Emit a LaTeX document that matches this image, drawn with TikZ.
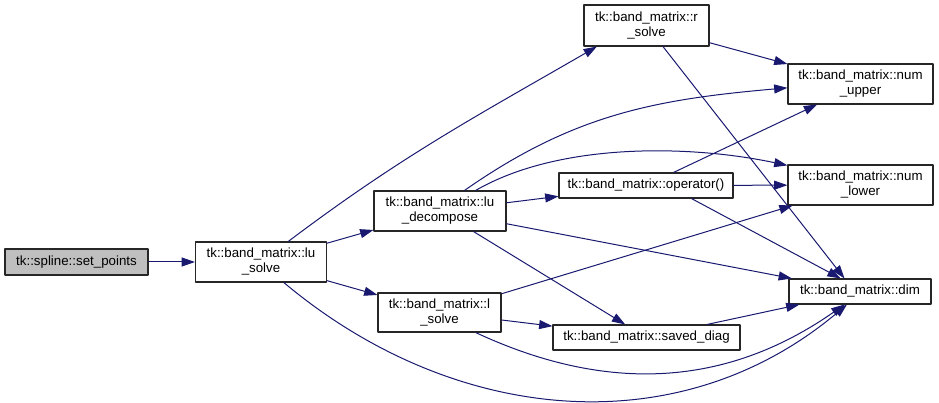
\documentclass[tikz,border=0pt]{standalone}
\usepackage{fontspec}
\setmainfont{Liberation Sans}
\usetikzlibrary{arrows.meta}
\definecolor{edgeblue}{HTML}{191970}
\definecolor{rootgray}{HTML}{BFBFBF}

\begin{document}
\begin{tikzpicture}[x=1pt, y=1pt, line width=1pt, line join=round,
    fn/.style={draw=black!85, fill=white, line width=1.1pt, inner sep=0pt,
      align=center, font=\fontsize{13.3}{15}\selectfont},
    call/.style={draw=edgeblue, line width=1pt,
      -{Triangle[width=9pt,length=13.3pt]}, fill=none}]

  %% ════ 函数框 ════
  \node[fn, fill=rootgray, minimum width=143pt, minimum height=26pt] (setpoints) at (76.5,-262) {tk::spline::set\_points};
  \node[fn, minimum width=131pt, minimum height=40pt] (lusolve)   at (261,-262)   {tk::band\_matrix::lu\\\_solve};
  \node[fn, minimum width=132pt, minimum height=40pt] (ludecomp)  at (440,-211)   {tk::band\_matrix::lu\\\_decompose};
  \node[fn, minimum width=123pt, minimum height=39pt] (lsolve)    at (439.5,-312.5) {tk::band\_matrix::l\\\_solve};
  \node[fn, minimum width=125pt, minimum height=41pt] (rsolve)    at (646.5,-25.5)  {tk::band\_matrix::r\\\_solve};
  \node[fn, minimum width=174pt, minimum height=25pt] (opcall)    at (646,-185.5)   {tk::band\_matrix::operator()};
  \node[fn, minimum width=187pt, minimum height=25pt] (saveddiag) at (646.5,-337.5) {tk::band\_matrix::saved\_diag};
  \node[fn, minimum width=145pt, minimum height=40pt] (numupper)  at (860.5,-84)    {tk::band\_matrix::num\\\_upper};
  \node[fn, minimum width=145pt, minimum height=40pt] (numlower)  at (860.5,-185)   {tk::band\_matrix::num\\\_lower};
  \node[fn, minimum width=142pt, minimum height=25pt] (dim)       at (860,-291.5)   {tk::band\_matrix::dim};

  %% ════ 直线调用 ════
  \foreach \a/\b in {setpoints/lusolve, lusolve/ludecomp, lusolve/lsolve,
      ludecomp/opcall, ludecomp/dim, ludecomp/saveddiag,
      opcall/numupper, opcall/numlower, rsolve/numupper,
      lsolve/numlower, lsolve/saveddiag, saveddiag/dim}{
    \draw[call] (\a) -- (\b);
  }
  \draw[call] (opcall.-16) -- (dim.146);
  \draw[call] (rsolve) -- (dim.140);

  %% ════ 弯曲调用 ════
  \draw[call] (lusolve.37) to[out=37, in=-150] (rsolve.-157);
  \draw[call] (ludecomp.40) to[out=35, in=-175] (numupper.-177);
  \draw[call] (ludecomp.30) to[out=30, in=168, looseness=0.8] (numlower.165);
  \draw[call] (lusolve.-42) to[out=-40, in=-140] (dim.-135);
  \draw[call] (lsolve.-29) to[out=-25, in=-145] (dim.-140);

  % 画布钉死
  \pgfresetboundingbox
  \path[use as bounding box] (0,0) rectangle (939,-403);
\end{tikzpicture}
\end{document}
